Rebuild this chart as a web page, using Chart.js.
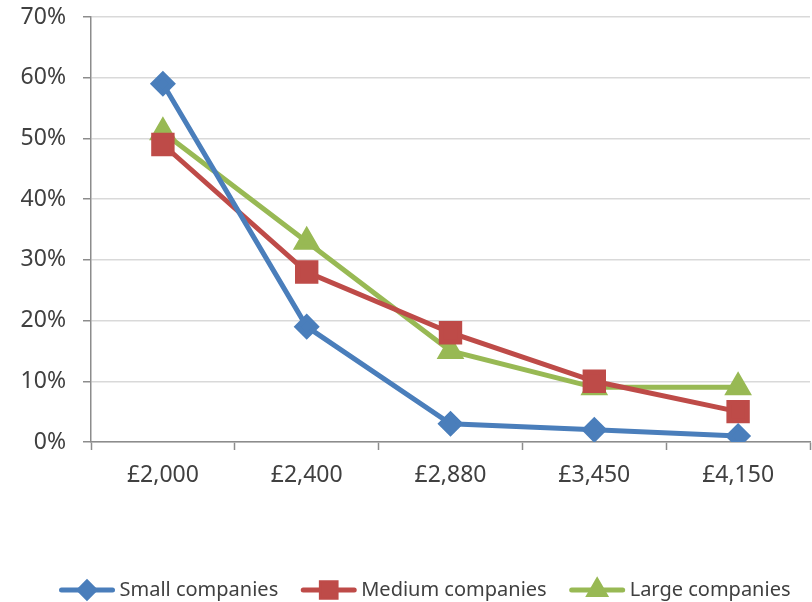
<!DOCTYPE html>
<html>
<head>
<meta charset="utf-8">
<script src="https://cdn.jsdelivr.net/npm/chart.js@4.4.1/dist/chart.umd.min.js"></script>
<style>
  html, body { margin: 0; padding: 0; background: #fff; }
  #wrap { width: 812px; height: 602px; }
</style>
</head>
<body>
<div id="wrap"><canvas id="myChart" width="812" height="602"></canvas></div>
<script>
'use strict';

// Price points
const prices = ['£2,000', '£2,400', '£2,880', '£3,450', '£4,150'];

// Share of companies (%)
const smallCompanies = [59, 19, 3, 2, 1];
const mediumCompanies = [49, 28, 18, 10, 5];
const largeCompanies = [51, 33, 15, 9, 9];

const seriesNames = ['Small companies', 'Medium companies', 'Large companies'];
const yTicks = [0, 10, 20, 30, 40, 50, 60, 70];

const textColor = '#404040';
const axisColor = '#8c8c8c';
const fontName = '"Noto Sans", "Open Sans", sans-serif';

// Legend with a line and a marker, like the office style
const lineLegend = {
  id: 'lineLegend',
  afterDraw(chart) {
    const ctx = chart.ctx;
    const y = 590;
    const lineLen = 55;
    const gap = 5;
    const spacing = 23;
    ctx.save();
    ctx.font = '20px ' + fontName;
    let widths = chart.data.datasets.map(d => ctx.measureText(d.label).width);
    let total = widths.reduce((a, b) => a + b, 0) + (lineLen + gap) * widths.length + spacing * (widths.length - 1);
    let x = 425 - total / 2;
    chart.data.datasets.forEach((d, i) => {
      ctx.strokeStyle = d.borderColor;
      ctx.lineWidth = 5;
      ctx.lineCap = 'round';
      ctx.beginPath();
      ctx.moveTo(x + 2, y);
      ctx.lineTo(x + lineLen - 2, y);
      ctx.stroke();
      Chart.helpers.drawPoint(ctx, {
        pointStyle: d.pointStyle,
        radius: d.pointRadius * 0.8,
        rotation: 0,
        borderWidth: 1
      }, x + lineLen / 2, y);
      ctx.fillStyle = d.backgroundColor;
      ctx.strokeStyle = d.borderColor;
      ctx.fill();
      ctx.fillStyle = textColor;
      ctx.textBaseline = 'middle';
      ctx.textAlign = 'left';
      ctx.fillText(d.label, x + lineLen + gap, y);
      x += lineLen + gap + widths[i] + spacing;
    });
    ctx.restore();
  }
};

function makeSet(label, data, color, style, radius) {
  return {
    label: label,
    data: data,
    borderColor: color,
    backgroundColor: color,
    pointBackgroundColor: color,
    pointBorderColor: color,
    borderWidth: 5,
    pointStyle: style,
    pointRadius: radius,
    pointHoverRadius: radius,
    tension: 0
  };
}

const ctx = document.getElementById('myChart').getContext('2d');
const chart = new Chart(ctx, {
  type: 'line',
  data: {
    labels: prices,
    datasets: [
      makeSet(seriesNames[0], smallCompanies, '#4A7EBB', 'rectRot', 9.5),
      makeSet(seriesNames[1], mediumCompanies, '#BE4B48', 'rect', 13),
      makeSet(seriesNames[2], largeCompanies, '#98B954', 'triangle', 11)
    ]
  },
  options: {
    responsive: false,
    animation: false,
    events: [],
    layout: { autoPadding: false, padding: { top: 17, right: 2, left: 0, bottom: 90 } },
    plugins: {
      legend: { display: false },
      tooltip: { enabled: false }
    },
    scales: {
      x: {
        offset: true,
        grid: {
          offset: true,
          drawOnChartArea: false,
          drawTicks: true,
          tickLength: 8,
          tickColor: axisColor,
          tickWidth: 1.5
        },
        border: { color: axisColor, width: 1.5 },
        ticks: {
          color: textColor,
          padding: 12,
          font: { family: fontName, size: 23 }
        },
        afterFit(scale) {
          scale.height = 70;
          scale.paddingLeft = 0;
          scale.paddingRight = 0;
        }
      },
      y: {
        min: 0,
        max: 70,
        afterBuildTicks(scale) {
          scale.ticks = yTicks.map(v => ({ value: v }));
        },
        grid: {
          color: '#d9d9d9',
          lineWidth: 1.5,
          drawTicks: true,
          tickLength: 8,
          tickColor: axisColor,
          tickWidth: 1.5
        },
        border: { color: axisColor, width: 1.5 },
        ticks: {
          color: textColor,
          padding: 17,
          font: { family: fontName, size: 23 },
          callback: v => v + '%'
        },
        afterFit(scale) {
          scale.width = 91;
          scale.paddingTop = 0;
          scale.paddingBottom = 0;
        }
      }
    }
  },
  plugins: [lineLegend]
});
</script>
</body>
</html>
